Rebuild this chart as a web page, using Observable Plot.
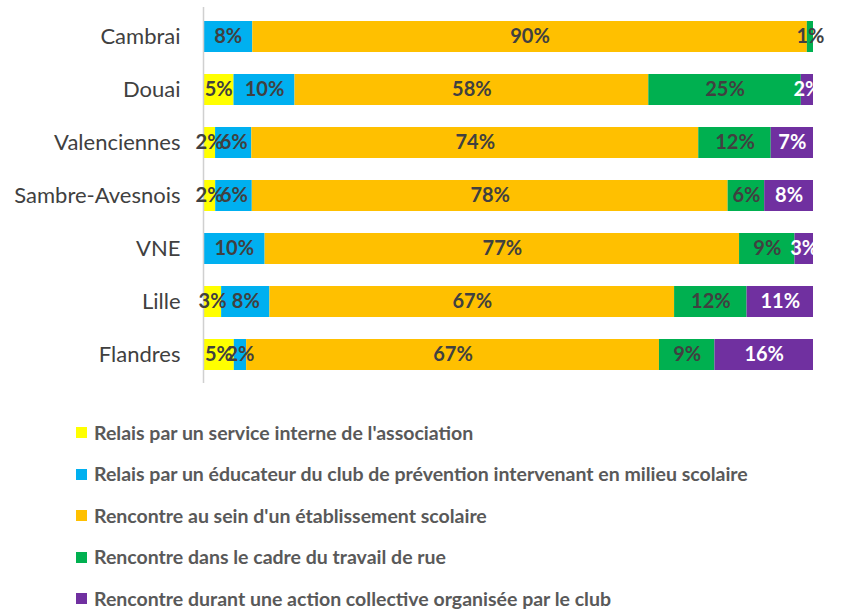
<!DOCTYPE html>
<html><head><meta charset="utf-8">
<script src="https://cdn.jsdelivr.net/npm/d3@7"></script>
<script src="https://cdn.jsdelivr.net/npm/@observablehq/plot@0.6"></script>
<style>
body{margin:0;background:#fff;font-family:Lato,"Open Sans",sans-serif;}
#legend{padding-top:22px;padding-left:76px;}
.li{height:41.5px;display:flex;align-items:center;font-weight:bold;font-size:19.5px;line-height:22px;color:#595959;white-space:nowrap;}
.sw{width:11px;height:11px;margin-right:7px;flex:none;}
</style></head><body>
<div id="chart"></div>
<div id="legend"></div>
<script>
const cities = ["Cambrai","Douai","Valenciennes","Sambre-Avesnois","VNE","Lille","Flandres"];
const categories = [
  "Relais par un service interne de l'association",
  "Relais par un éducateur du club de prévention intervenant en milieu scolaire",
  "Rencontre au sein d'un établissement scolaire",
  "Rencontre dans le cadre du travail de rue",
  "Rencontre durant une action collective organisée par le club"
];
const colors = ["#FFFF00","#00B0F0","#FFC000","#00B050","#7030A0"];
const relaisInterne   = [0, 5, 2, 2, 0, 3, 5];
const relaisEducateur = [8, 10, 6, 6, 10, 8, 2];
const etablissement   = [90, 58, 74, 78, 77, 67, 67];
const travailRue      = [1, 25, 12, 6, 9, 12, 9];
const actionCollective= [0, 2, 7, 8, 3, 11, 16];
const series = [relaisInterne, relaisEducateur, etablissement, travailRue, actionCollective];

const data = [];
cities.forEach((c, i) => series.forEach((s, k) => data.push({city: c, cat: categories[k], value: s[i]})));

const stackOpts = {x: "value", y: "city", z: "cat", order: categories, offset: "normalize"};
const plot = Plot.plot({
  width: 841, height: 390,
  marginLeft: 203, marginRight: 28, marginTop: 7, marginBottom: 7,
  style: {fontFamily: "Lato, 'Open Sans', sans-serif"},
  x: {axis: null, domain: [0, 1]},
  y: {domain: cities, paddingInner: 0.42, paddingOuter: 0.21, label: null, tickSize: 0, tickPadding: 23},
  color: {domain: categories, range: colors},
  marks: [
    Plot.barX(data, Plot.stackX({...stackOpts, fill: "cat"})),
    Plot.ruleX([0], {stroke: "#d0d0d0", strokeWidth: 1.5}),
    Plot.text(data, Plot.stackX({...stackOpts, filter: d => d.value > 0, text: d => d.value + "%",
      fill: d => d.cat === categories[4] ? "#ffffff" : "#404040", fontWeight: "bold", fontSize: 20})),
    Plot.axisY({tickSize: 0, tickPadding: 23, fontSize: 22, color: "#404040", label: null})
  ]
});
document.getElementById("chart").appendChild(plot);

const lg = document.getElementById("legend");
categories.forEach((c, k) => {
  const row = document.createElement("div"); row.className = "li";
  const sw = document.createElement("span"); sw.className = "sw"; sw.style.background = colors[k];
  const tx = document.createElement("span"); tx.textContent = c;
  row.appendChild(sw); row.appendChild(tx); lg.appendChild(row);
});
</script>
</body></html>
